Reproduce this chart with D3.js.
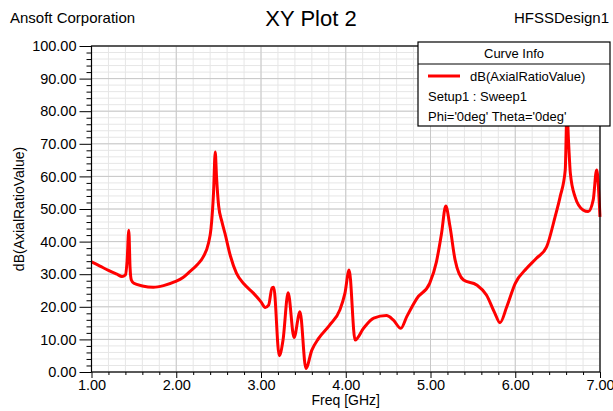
<!DOCTYPE html>
<html>
<head>
<script src="https://d3js.org/d3.v7.min.js"></script>
<style>
  body { margin:0; background:#fff; }
  svg { display:block; font-family:"Liberation Sans", Arial, sans-serif; }
</style>
</head>
<body>
<svg id="chart" width="613" height="411"></svg>
<script>
// curve values
const freq = [1.00,1.10,1.20,1.30,1.36,1.40,1.42,1.44,1.455,1.47,1.50,1.60,1.73,1.85,1.985,2.08,2.16,2.25,2.32,2.38,2.41,2.44,2.46,2.475,2.50,2.54,2.575,2.64,2.71,2.80,2.91,3.00,3.05,3.09,3.13,3.15,3.215,3.26,3.32,3.39,3.46,3.53,3.60,3.68,3.81,3.93,3.99,4.04,4.11,4.21,4.33,4.48,4.56,4.65,4.72,4.84,4.99,5.07,5.13,5.18,5.23,5.29,5.39,5.545,5.66,5.76,5.82,5.90,6.00,6.135,6.25,6.37,6.47,6.53,6.59,6.61,6.63,6.65,6.705,6.80,6.86,6.92,6.96,7.00];
const axialRatio = [33.8,32.5,31.2,30.0,29.3,29.8,34,43.5,32,28.2,27.2,26.4,26.0,26.5,27.7,29,30.8,33,35.4,39.5,44,55,67.5,60,51,46,42.5,35.5,30.3,27,24.2,21.5,19.8,20.5,25.8,26,5.0,9.8,24.3,10.6,18.5,1.1,6.7,10.3,14.4,19,24.1,31.3,9.8,13.4,16.5,17.3,16,13.4,17,22.6,27.2,33.8,42.5,50.9,44.6,34.4,28.2,26.7,23.6,18,15.1,20,27.2,31.8,34.9,38.4,47.6,53.8,62,80,70,61,53.8,49.7,49.2,52.8,62,47.6];

const xTicks = [1,2,3,4,5,6,7];
const yTicks = [0,10,20,30,40,50,60,70,80,90,100];
const legendLines = ["Setup1 : Sweep1", "Phi='0deg' Theta='0deg'"];

const svg = d3.select('#chart');
const pLeft = 91.5, pRight = 600, pTop = 46, pBottom = 372;

const x = d3.scaleLinear().domain([1,7]).range([pLeft,pRight]);
const y = d3.scaleLinear().domain([0,100]).range([pBottom,pTop]);

// grid
const grid = svg.append('g');
grid.selectAll('.vmin').data(d3.range(1,7.001,0.2)).join('line')
    .attr('x1', d => x(d)).attr('x2', d => x(d))
    .attr('y1', pTop).attr('y2', pBottom)
    .attr('stroke', '#e6e6e6').attr('stroke-width', 1);
grid.selectAll('.hmin').data(d3.range(0,100.001,2)).join('line')
    .attr('x1', pLeft).attr('x2', pRight)
    .attr('y1', d => y(d)).attr('y2', d => y(d))
    .attr('stroke', '#e6e6e6').attr('stroke-width', 1);
grid.selectAll('.vmaj').data(xTicks).join('line')
    .attr('x1', d => x(d)).attr('x2', d => x(d))
    .attr('y1', pTop).attr('y2', pBottom)
    .attr('stroke', '#c8c8c8').attr('stroke-width', 1);
grid.selectAll('.hmaj').data(yTicks).join('line')
    .attr('x1', pLeft).attr('x2', pRight)
    .attr('y1', d => y(d)).attr('y2', d => y(d))
    .attr('stroke', '#c8c8c8').attr('stroke-width', 1);

// curve
const line = d3.line()
    .x((d,i) => x(freq[i]))
    .y(d => y(d))
    .curve(d3.curveMonotoneX);
svg.append('path')
    .datum(axialRatio)
    .attr('d', line)
    .attr('fill', 'none')
    .attr('stroke', '#ff0000')
    .attr('stroke-width', 3)
    .attr('stroke-linejoin', 'round');

// frame
svg.append('rect')
    .attr('x', pLeft).attr('y', pTop)
    .attr('width', pRight-pLeft).attr('height', pBottom-pTop)
    .attr('fill', 'none').attr('stroke', '#000').attr('stroke-width', 1.2);

// axes
const yAxis = d3.axisLeft(y).tickValues(yTicks).tickFormat(d3.format('.2f')).tickSize(12).tickPadding(3);
const gy = svg.append('g').attr('transform', `translate(${pLeft},0)`).call(yAxis);
gy.select('.domain').remove();
gy.selectAll('text').attr('font-size', 14.5).attr('fill', '#000').attr('font-family', '"Liberation Sans", Arial, sans-serif');

const yMinor = d3.axisLeft(y).tickValues(d3.range(0,100.001,2).filter(d => d % 10 !== 0)).tickSize(5).tickFormat('');
const gy2 = svg.append('g').attr('transform', `translate(${pLeft},0)`).call(yMinor);
gy2.select('.domain').remove();

const xAxis = d3.axisBottom(x).tickValues(xTicks).tickFormat(d3.format('.2f')).tickSize(6).tickPadding(2);
const gx = svg.append('g').attr('transform', `translate(0,${pBottom})`).call(xAxis);
gx.select('.domain').remove();
gx.selectAll('text').attr('font-size', 14.5).attr('fill', '#000').attr('font-family', '"Liberation Sans", Arial, sans-serif');

const xMinor = d3.axisBottom(x).tickValues(d3.range(1.2,7,0.2).filter(d => Math.abs(d - Math.round(d)) > 0.01)).tickSize(3).tickFormat('');
const gx2 = svg.append('g').attr('transform', `translate(0,${pBottom})`).call(xMinor);
gx2.select('.domain').remove();

// axis labels
svg.append('text').attr('x', (pLeft+pRight)/2).attr('y', 405)
    .attr('text-anchor', 'middle').attr('font-size', 14).text('Freq [GHz]');
svg.append('text').attr('transform', `translate(24,${(pTop+pBottom)/2}) rotate(-90)`)
    .attr('text-anchor', 'middle').attr('font-size', 14).text('dB(AxialRatioValue)');

// header
svg.append('text').attr('x', 10).attr('y', 23).attr('font-size', 15).text('Ansoft Corporation');
svg.append('text').attr('x', 311).attr('y', 26).attr('text-anchor', 'middle').attr('font-size', 22).text('XY Plot 2');
svg.append('text').attr('x', 609).attr('y', 23).attr('text-anchor', 'end').attr('font-size', 15).text('HFSSDesign1');

// legend
const lg = svg.append('g').attr('transform', 'translate(418,42)');
lg.append('rect').attr('width', 192).attr('height', 84)
    .attr('fill', '#fff').attr('stroke', '#000').attr('stroke-width', 1.2);
lg.append('line').attr('x1', 0).attr('x2', 192).attr('y1', 22).attr('y2', 22)
    .attr('stroke', '#000').attr('stroke-width', 1);
lg.append('text').attr('x', 96).attr('y', 16).attr('text-anchor', 'middle')
    .attr('font-size', 13).text('Curve Info');
lg.append('line').attr('x1', 10).attr('x2', 42).attr('y1', 34).attr('y2', 34)
    .attr('stroke', '#ff0000').attr('stroke-width', 3);
lg.append('text').attr('x', 52).attr('y', 39).attr('font-size', 13).text('dB(AxialRatioValue)');
lg.selectAll('.info').data(legendLines).join('text')
    .attr('x', 10).attr('y', (d,i) => 59 + i*20)
    .attr('font-size', 13).text(d => d);
</script>
</body>
</html>
